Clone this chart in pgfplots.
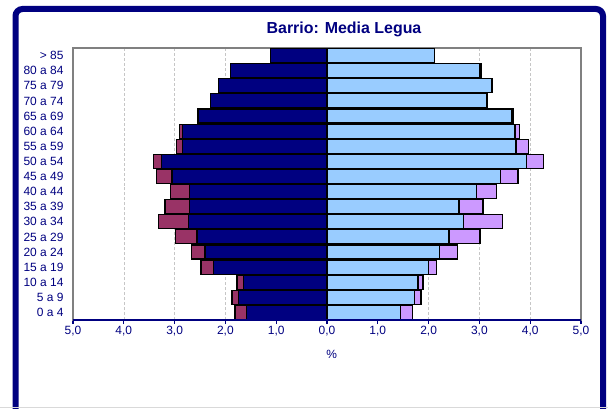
\documentclass[border=0pt]{standalone}
\usepackage{pgfplots}
\pgfplotsset{compat=1.18}
\usepackage{pgfplotstable}
\usepackage{fontspec}
\setmainfont{Liberation Sans}
\definecolor{navyc}{HTML}{000080}
\definecolor{maroonc}{HTML}{993366}
\definecolor{lightc}{HTML}{99CCFF}
\definecolor{lavc}{HTML}{CC99FF}
\definecolor{axgray}{HTML}{808080}

\pgfplotstableread{
cat navy maroon light lav
0  1.59 1.81 1.45 1.68
1  1.74 1.87 1.73 1.85
2  1.64 1.77 1.79 1.89
3  2.23 2.48 1.99 2.15
4  2.40 2.66 2.22 2.57
5  2.56 2.99 2.40 3.01
6  2.73 3.31 2.69 3.45
7  2.70 3.19 2.60 3.07
8  2.70 3.08 2.95 3.34
9  3.05 3.36 3.41 3.76
10 3.26 3.41 3.92 4.26
11 2.85 2.96 3.72 3.97
12 2.85 2.91 3.70 3.79
13 2.53 2.55 3.64 3.66
14 2.30 2.30 3.14 3.16
15 2.13 2.13 3.24 3.26
16 1.90 1.90 3.01 3.03
17 1.11 1.11 2.12 2.12
}\pyr

\begin{document}
\begin{tikzpicture}[x=1bp,y=1bp]
\useasboundingbox (0,0) rectangle (608,408);
\begin{scope}
\clip (0,0) rectangle (608,408);
\draw[navyc, line width=6bp, rounded corners=7bp] (15.5,-40) -- (15.5,399) -- (603,399) -- (603,-40);
\draw[gray!30, line width=1bp] (0,0.5) -- (608,0.5);
\end{scope}
\node[font=\fontsize{16}{19}\selectfont\bfseries, text=navyc] at (344,378.5) {Barrio: Media Legua};
\begin{axis}[
  at={(73bp,88bp)}, anchor=south west,
  scale only axis, width=508bp, height=272bp,
  xmin=-5, xmax=5, ymin=-0.5, ymax=17.5,
  xbar, bar width=14bp,
  every axis plot/.append style={bar shift=0pt, draw=black, line width=1.2bp},
  axis line style={axgray, line width=1.2bp},
  xtick={-5,-4,-3,-2,-1,0,1,2,3,4,5},
  xticklabels={{5,0},{4,0},{3,0},{2,0},{1,0},{0,0},{1,0},{2,0},{3,0},{4,0},{5,0}},
  ytick={0,...,17},
  yticklabels={0 a 4,5 a 9,10 a 14,15 a 19,20 a 24,25 a 29,30 a 34,35 a 39,40 a 44,45 a 49,50 a 54,55 a 59,60 a 64,65 a 69,70 a 74,75 a 79,80 a 84,> 85},
  ytick style={draw=none},
  xtick style={navyc, line width=1.2bp},
  tick align=outside, major tick length=4bp,
  xtick pos=bottom,
  xmajorgrids, grid style={densely dashed, gray!45, line width=0.6bp},
  ticklabel style={font=\fontsize{12}{14}\selectfont, text=navyc},
  yticklabel style={xshift=-2bp},
  xticklabel style={yshift=1bp},
  clip=false,
  after end axis/.code={
    \draw[navyc, line width=1.5bp] (rel axis cs:0,0) -- (rel axis cs:1,0);
  },
]
\addplot[fill=maroonc] table[x expr=-\thisrow{maroon}, y=cat] {\pyr};
\addplot[fill=navyc] table[x expr=-\thisrow{navy}, y=cat] {\pyr};
\addplot[fill=lavc] table[x=lav, y=cat] {\pyr};
\addplot[fill=lightc] table[x=light, y=cat] {\pyr};
\end{axis}
\node[font=\fontsize{12}{14}\selectfont, text=navyc] at (331.7,54) {\%};
\end{tikzpicture}
\end{document}
